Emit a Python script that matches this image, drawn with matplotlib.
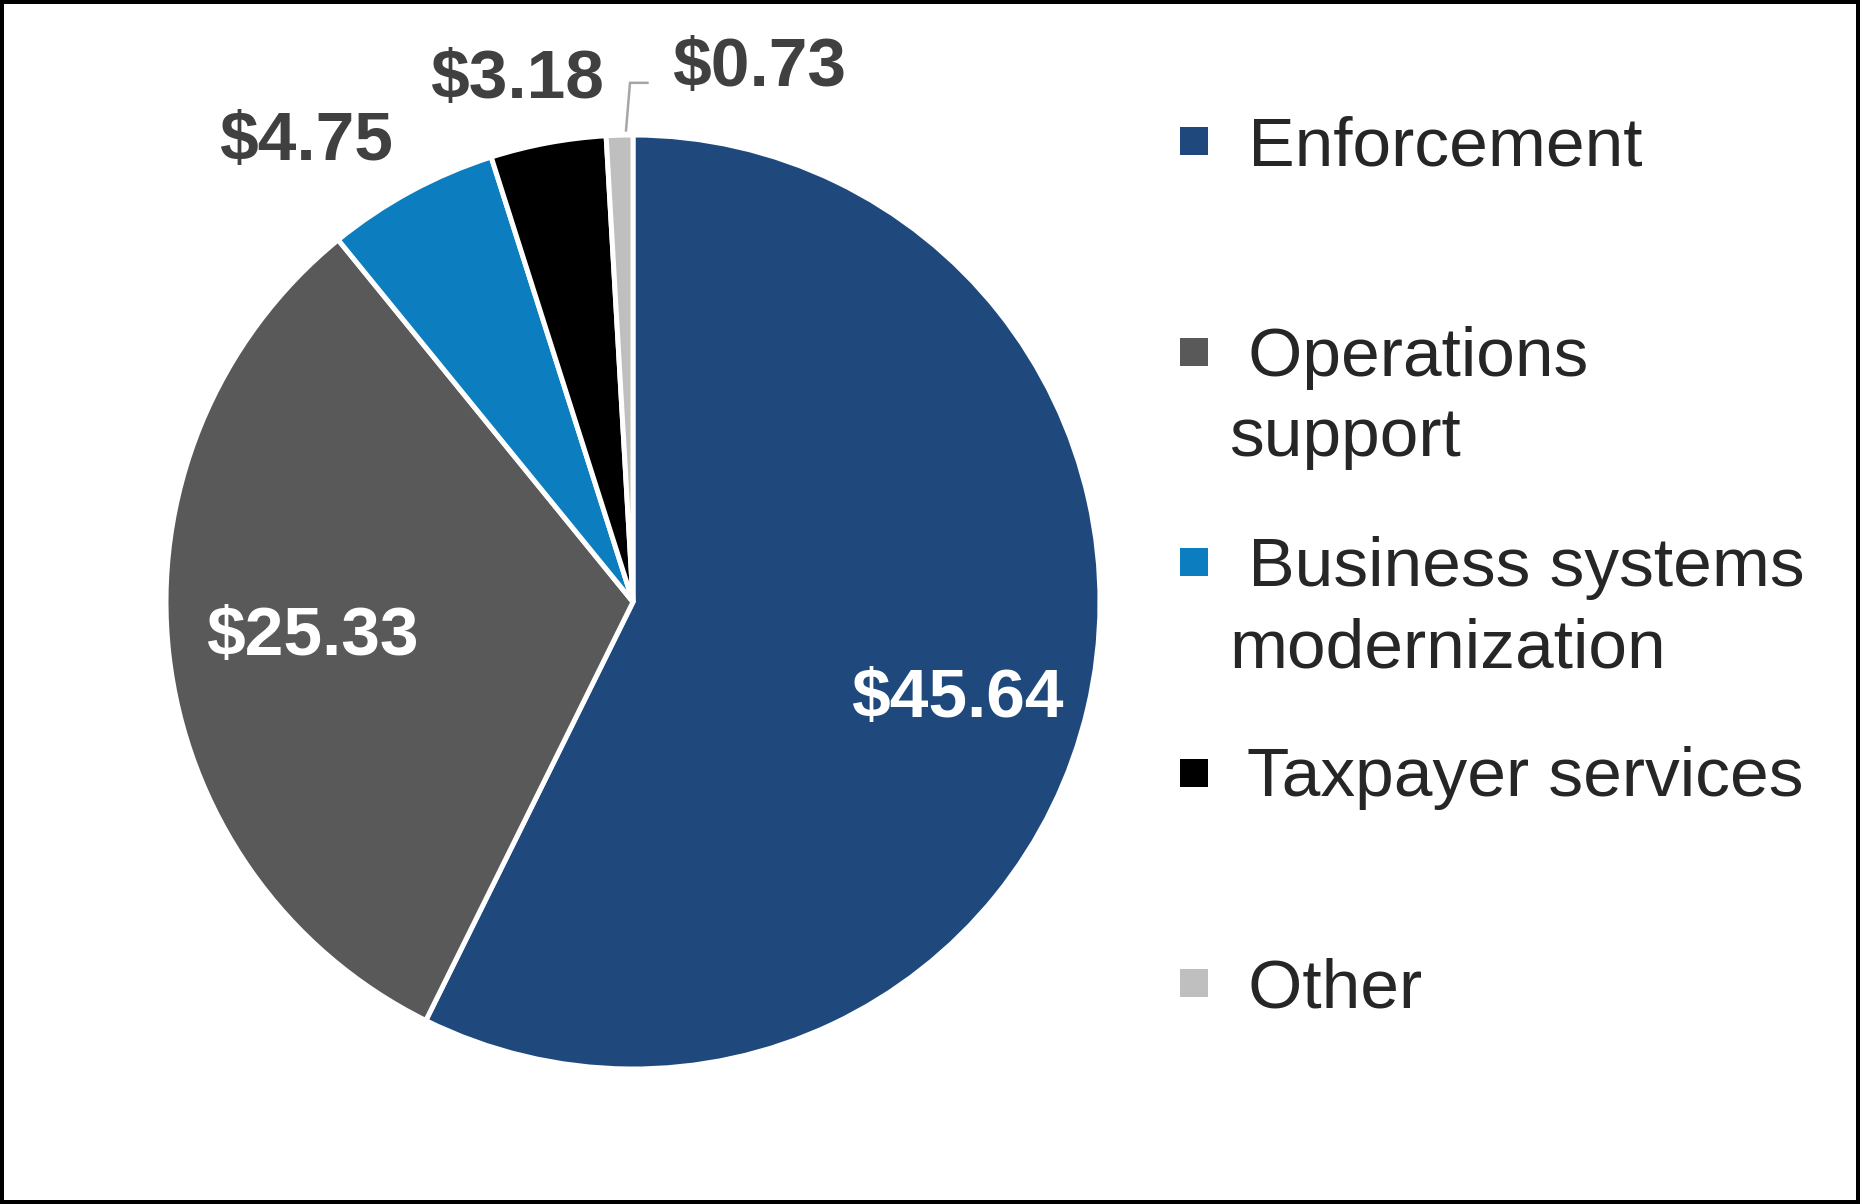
import numpy as np
import matplotlib
matplotlib.use("Agg")
import matplotlib.pyplot as plt
from matplotlib.patches import Rectangle

plt.rcParams['font.family'] = ['Liberation Sans', 'DejaVu Sans']

# data (billions of dollars)
categories = ["Enforcement", "Operations\nsupport", "Business systems\nmodernization",
              "Taxpayer services", "Other"]
values = [45.64, 25.33, 4.75, 3.18, 0.73]
value_labels = ["$45.64", "$25.33", "$4.75", "$3.18", "$0.73"]
colors = ["#1F497D", "#595959", "#0C7DBE", "#000000", "#BFBFBF"]

# label placement: (angle shift in deg, radius factor, inside?)
label_pos = [(-2.3, 0.72, True), (-1.4, 0.69, True), (6.6, 1.22, False),
             (1.9, 1.16, False), (-14.8, 1.19, False)]

W, H = 1860, 1204
fig = plt.figure(figsize=(W / 100, H / 100), dpi=100)
ax = fig.add_axes([0, 0, 1, 1])

cx, cy, R = 633, H - 602, 467
px = 72 / 100  # points per pixel

wedges, _ = ax.pie(values, colors=colors, startangle=90, counterclock=False,
                   center=(cx, cy), radius=R, frame=True,
                   wedgeprops=dict(edgecolor='white', linewidth=5 * px))
ax.set_xlim(0, W)
ax.set_ylim(0, H)
ax.set_aspect('equal')
ax.axis('off')

for w, lab, (da, rf, inside) in zip(wedges, value_labels, label_pos):
    mid = np.deg2rad((w.theta1 + w.theta2) / 2 + da)
    x = cx + rf * R * np.cos(mid)
    y = cy + rf * R * np.sin(mid)
    ax.text(x, y - 25, lab, ha='center', va='baseline', fontsize=50,
            fontweight='bold', color='white' if inside else '#404040')

# leader line for the smallest slice
w = wedges[-1]
mid = np.deg2rad((w.theta1 + w.theta2) / 2 - 0.8)
da, rf, _ = label_pos[-1]
lx = cx + rf * R * np.cos(np.deg2rad((w.theta1 + w.theta2) / 2 + da))
ly = cy + rf * R * np.sin(np.deg2rad((w.theta1 + w.theta2) / 2 + da))
x0, y0 = cx + 1.01 * R * np.cos(mid), cy + 1.01 * R * np.sin(mid)
ax.plot([x0, x0 + 4, lx - 112], [y0, ly - 22, ly - 22], color='#A6A6A6',
        lw=2.5 * px, solid_joinstyle='miter')

# legend drawn by hand
base0, step, line_h = H - 165, 210.5, 81
for i, (cat, col) in enumerate(zip(categories, colors)):
    base = base0 - i * step
    ax.add_patch(Rectangle((1180, base + 10), 28, 28, facecolor=col, edgecolor='none'))
    for j, line in enumerate(cat.split("\n")):
        txt = " " + line if j == 0 else line
        ax.text(1229, base - j * line_h, txt, ha='left', va='baseline',
                fontsize=50, color='#262626')

# outer frame
ax.add_patch(Rectangle((2, 2), W - 4, H - 4, facecolor='none',
                       edgecolor='black', linewidth=4 * px))

fig.savefig("out.png", dpi=100)
